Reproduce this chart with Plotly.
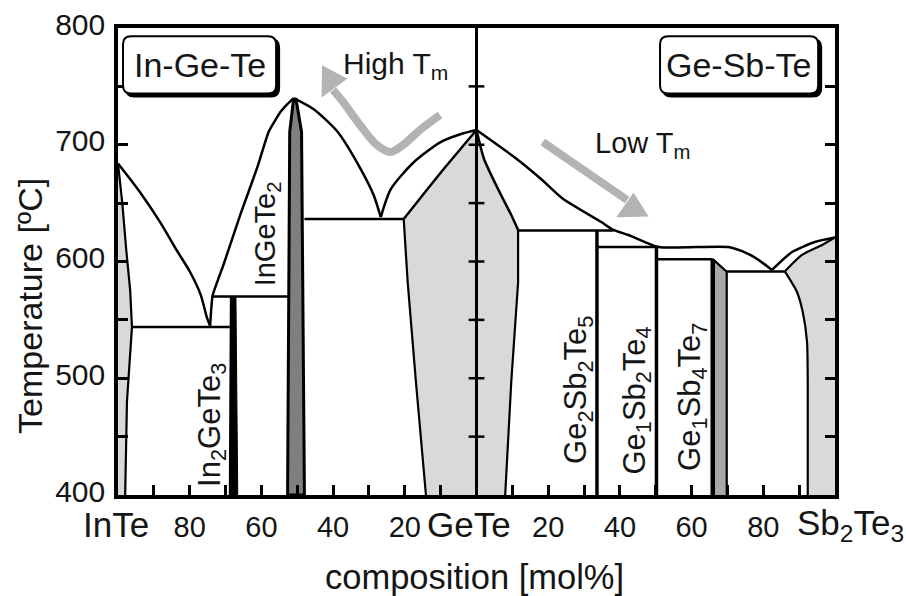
import plotly.graph_objects as go

# ---------------- data (x: 0 = InTe, 100 = GeTe, 200 = Sb2Te3; y: temperature in degC)
x_tick_pos = [10, 20, 30, 40, 50, 60, 70, 80, 90, 110, 120, 130, 140, 150, 160, 170, 180, 190]
x_tick_txt = ["", "80", "", "60", "", "40", "", "20", "", "", "20", "", "40", "", "60", "", "80", ""]
end_labels = ["InTe", "GeTe", "Sb<sub>2</sub>Te<sub>3</sub>"]
end_label_xpaper = [-0.003, 0.4895, 1.021]
y_tick_pos = [400, 450, 500, 550, 600, 650, 700, 750, 800]
y_tick_txt = ["400", "", "500", "", "600", "", "700", "", "800"]
cross_T = [450, 500, 550, 600, 650, 700, 750]

# In-Ge-Te side
inte_liq_x = [0, 6.0, 11.7, 16.5, 20.1, 23.0, 24.9, 25.7]
inte_liq_T = [684, 660, 634, 609, 591, 572, 551, 545]
inte_ss_x = [0, 1.2, 2.3, 3.4, 3.9, 3.4, 2.5, 2.0]
inte_ss_T = [684, 650, 610, 575, 544, 522, 480, 400]
eut1_x = [3.9, 31.2]
eut1_T = [544, 544]
in2gete3_x = [31.2, 32.9, 33.4, 30.9]
in2gete3_T = [569, 569, 400, 400]
liq2_x = [25.7, 26.4, 29.4, 34.1, 38.9, 42.0, 45.3, 47.3, 49.0]
liq2_T = [545, 571, 597, 640, 681, 711, 728, 735, 740]
perit1_x = [26.4, 47.6]
perit1_T = [570, 570]
ingete2_x = [49.0, 47.9, 47.3, 52.0, 51.2, 49.6]
ingete2_T = [740, 711, 400, 400, 711, 740]
liq3_x = [49.0, 54.5, 61.3, 67.7, 71.3, 73.3]
liq3_T = [740, 730.6, 710.9, 679.2, 657, 638]
eut2_x = [52.0, 79.7]
eut2_T = [636.4, 636.4]
liq4_x = [73.3, 76.1, 82.5, 90.1, 95.7, 100]
liq4_T = [638, 662, 685, 702.4, 709.2, 712.6]
gete_l_sol_x = [100, 90, 79.7]
gete_l_sol_T = [712.6, 676, 636.4]
gete_l_svs_x = [79.7, 80.8, 83.1, 85.9]
gete_l_svs_T = [636.4, 582.4, 497, 400]

# Ge-Sb-Te side
gete_r_sol_x = [100, 102.1, 106.0, 109.7, 111.6]
gete_r_sol_T = [712.6, 687.8, 662.1, 639.8, 627]
gete_r_svs_x = [111.6, 111.6, 109.7, 108.0]
gete_r_svs_T = [627, 582, 497, 400]
liq5_x = [100, 110.5, 118.0, 124.2, 134.8, 138.2, 142.4, 150.8, 170.3, 175.9, 178.7, 182.4]
liq5_T = [712.6, 689.5, 670.7, 653.5, 633.8, 627, 622.7, 612.4, 612.4, 606.4, 601.3, 592.7]
perit2_x = [111.6, 138.2]
perit2_T = [626.5, 626.5]
gst225_x = [133.6, 133.6]
gst225_T = [626.5, 400]
perit3_x = [133.6, 150.8]
perit3_T = [612.4, 612.4]
gst124_x = [150.2, 150.2]
gst124_T = [612.4, 400]
perit4_x = [150.2, 165.9]
perit4_T = [602, 602]
gst147_x = [165.9, 165.9]
gst147_T = [602, 400]
gst147_face_x = [166.4, 169.6, 169.6, 166.4]
gst147_face_T = [601.5, 591.2, 400, 400]
gst147_edge_x = [165.9, 169.8, 169.8]
gst147_edge_T = [602, 591.2, 400]
eut3_x = [169.8, 186.0]
eut3_T = [591.5, 591.5]
sbte_liq_x = [182.4, 188.0, 194.4, 200]
sbte_liq_T = [592.7, 608.1, 616.7, 620.5]
sbte_sol_x = [186.0, 190.8, 196.4, 200]
sbte_sol_T = [591.5, 605.6, 614.1, 620.5]
sbte_svs_x = [186.0, 189.4, 191.0, 192.2, 192.4, 192.4]
sbte_svs_T = [591.5, 573.9, 556.7, 531, 497, 400]

# arrows
high_arrow_x = [89.8, 84.2, 79.5, 75.9, 72.2, 67.5, 62.8, 60.0]
high_arrow_T = [725.5, 712.6, 699.8, 693.8, 699.8, 716.9, 736.6, 746.9]
high_head_x = [56.9, 56.8, 64.0]
high_head_T = [768.0, 740.5, 756.5]
low_arrow_x = [118.5, 142.0]
low_arrow_T = [702.4, 652.7]
low_head_x = [148.0, 139.0, 143.8]
low_head_T = [638.5, 638.0, 659.0]

# label boxes [x0, x1, T_bottom, T_top]
box_ingete = [1.4, 44.1, 744.0, 793.0]
box_gesbte = [151.2, 195.3, 744.0, 793.0]

LIGHT = "#d9d9d9"
DARK = "#7f7f7f"
MID = "#a8a8a8"
ARROW = "#b3b3b3"
FONT = "Liberation Sans, Arial, Helvetica, sans-serif"
TXT = "#151515"

fig = go.Figure()


def poly(x, y, fill, lc=None, lw=0):
    fig.add_trace(go.Scatter(x=x, y=y, mode="lines", fill="toself", fillcolor=fill,
                             line=dict(color=lc or fill, width=lw), hoverinfo="skip",
                             showlegend=False))


def line(x, y, w=2.5, color="black", smooth=None):
    ln = dict(color=color, width=w)
    if smooth:
        ln["shape"] = "spline"
        ln["smoothing"] = smooth
    fig.add_trace(go.Scatter(x=x, y=y, mode="lines", line=ln,
                             hoverinfo="skip", showlegend=False))


# light grey solid-solution regions
poly(inte_ss_x + [0], inte_ss_T + [400], LIGHT)
poly(gete_l_sol_x + gete_l_svs_x[1:] + [100], gete_l_sol_T + gete_l_svs_T[1:] + [400], LIGHT)
poly(gete_r_sol_x + gete_r_svs_x[1:] + [100], gete_r_sol_T + gete_r_svs_T[1:] + [400], LIGHT)
poly(sbte_sol_x + [200] + sbte_svs_x[::-1], sbte_sol_T + [400] + sbte_svs_T[::-1], LIGHT)

# phase boundaries
line(inte_liq_x, inte_liq_T, 2.5, smooth=0.8)
line(inte_ss_x, inte_ss_T, 2.2)
line(eut1_x, eut1_T, 2.5)
line(liq2_x, liq2_T, 2.5, smooth=0.4)
line(perit1_x, perit1_T, 2.5)
line(liq3_x, liq3_T, 2.5, smooth=0.7)
line(eut2_x, eut2_T, 2.5)
line(liq4_x, liq4_T, 2.5, smooth=0.7)
line(gete_l_sol_x, gete_l_sol_T, 2.5, smooth=0.6)
line(gete_l_svs_x, gete_l_svs_T, 2.2)
line(gete_r_sol_x, gete_r_sol_T, 2.5, smooth=0.6)
line(gete_r_svs_x, gete_r_svs_T, 2.2)
line(liq5_x, liq5_T, 2.5, smooth=0.6)
line(perit2_x, perit2_T, 2.5)
line(gst225_x, gst225_T, 3.5)
line(perit3_x, perit3_T, 2.5)
line(gst124_x, gst124_T, 3.5)
line(perit4_x, perit4_T, 2.5)
poly(gst147_face_x, gst147_face_T, MID)
line(gst147_x, gst147_T, 4.5)
line(gst147_edge_x, gst147_edge_T, 2.2)
line(eut3_x, eut3_T, 2.5)
line(sbte_liq_x, sbte_liq_T, 2.5, smooth=0.6)
line(sbte_sol_x, sbte_sol_T, 2.2, smooth=0.6)
line(sbte_svs_x, sbte_svs_T, 2.2, smooth=0.6)

# compound bars
poly(in2gete3_x, in2gete3_T, "black", "black", 1)
poly(ingete2_x, ingete2_T, DARK, "black", 3)

# GeTe divider with cross ticks
line([100, 100], [400, 800], 3)
cx, cy = [], []
for t in cross_T:
    cx += [97.8, 102.2, None]
    cy += [t, t, None]
line(cx, cy, 2.5)

# arrows
line(high_arrow_x, high_arrow_T, 8, ARROW, smooth=0.9)
poly(high_head_x, high_head_T, ARROW)
line(low_arrow_x, low_arrow_T, 8, ARROW)
poly(low_head_x, low_head_T, ARROW)


def rounded(b, dx=0.0, dy=0.0):
    x0, x1, y0, y1 = b[0] + dx, b[1] + dx, b[2] + dy, b[3] + dy
    rx, ry = 8 / 3.585, 8 / 1.1675
    return (f"M {x0+rx},{y1} L {x1-rx},{y1} Q {x1},{y1} {x1},{y1-ry} "
            f"L {x1},{y0+ry} Q {x1},{y0} {x1-rx},{y0} L {x0+rx},{y0} "
            f"Q {x0},{y0} {x0},{y0+ry} L {x0},{y1-ry} Q {x0},{y1} {x0+rx},{y1} Z")


shapes = []
for b in (box_ingete, box_gesbte):
    shapes.append(dict(type="path", path=rounded(b, 3 / 3.585, -3 / 1.1675), fillcolor="black",
                       line=dict(color="black", width=2), xref="x", yref="y"))
    shapes.append(dict(type="path", path=rounded(b), fillcolor="white",
                       line=dict(color="black", width=2), xref="x", yref="y"))

ann = []


def txt(text, x, y, size, angle=0, xref="x", yref="y"):
    ann.append(dict(text=text, x=x, y=y, xref=xref, yref=yref, showarrow=False,
                    textangle=angle, xanchor="center", yanchor="middle",
                    font=dict(family=FONT, size=size, color=TXT)))


txt("In-Ge-Te", (box_ingete[0] + box_ingete[1]) / 2, (box_ingete[2] + box_ingete[3]) / 2, 34)
txt("Ge-Sb-Te", (box_gesbte[0] + box_gesbte[1]) / 2, (box_gesbte[2] + box_gesbte[3]) / 2, 34)
txt("High T<sub>m</sub>", 77.5, 768, 30)
txt("Low T<sub>m</sub>", 146.4, 700, 29)
txt("In<sub>2</sub>GeTe<sub>3</sub>", 26.2, 460, 31, -90)
txt("InGeTe<sub>2</sub>", 41.8, 624, 29, -90)
txt("Ge<sub>2</sub>Sb<sub>2</sub>Te<sub>5</sub>", 128.3, 490, 31, -90)
txt("Ge<sub>1</sub>Sb<sub>2</sub>Te<sub>4</sub>", 144.8, 481, 31, -90)
txt("Ge<sub>1</sub>Sb<sub>4</sub>Te<sub>7</sub>", 160.1, 484, 31, -90)
for lab, xv in zip(end_labels, end_label_xpaper):
    txt(lab, xv, -0.064, 35, xref="paper", yref="paper")
txt("Temperature [ºC]", -0.1227, 0.405, 34, -90, xref="paper", yref="paper")
txt("composition [mol%]", 0.497, -0.175, 34.5, xref="paper", yref="paper")

fig.update_layout(
    width=906, height=596,
    margin=dict(l=118, r=71, t=28, b=101, autoexpand=False),
    paper_bgcolor="white", plot_bgcolor="white",
    shapes=shapes, annotations=ann,
    font=dict(family=FONT, color=TXT),
)
fig.update_xaxes(range=[0, 200], showline=True, linewidth=3.5, linecolor="black", mirror=True,
                 ticks="inside", ticklen=10, tickwidth=2.5, tickcolor="black",
                 tickmode="array", tickvals=x_tick_pos, ticktext=x_tick_txt,
                 tickfont=dict(family=FONT, size=29, color=TXT), ticklabelstandoff=3,
                 showgrid=False, zeroline=False, fixedrange=True, automargin=False)
fig.update_yaxes(range=[400, 800], showline=True, linewidth=3.5, linecolor="black", mirror="ticks",
                 ticks="inside", ticklen=10, tickwidth=2.5, tickcolor="black",
                 tickmode="array", tickvals=y_tick_pos, ticktext=y_tick_txt,
                 tickfont=dict(family=FONT, size=30, color=TXT), ticklabelstandoff=3,
                 ticklabelshift=-4,
                 showgrid=False, zeroline=False, fixedrange=True, automargin=False)

fig.write_html("out.html")
